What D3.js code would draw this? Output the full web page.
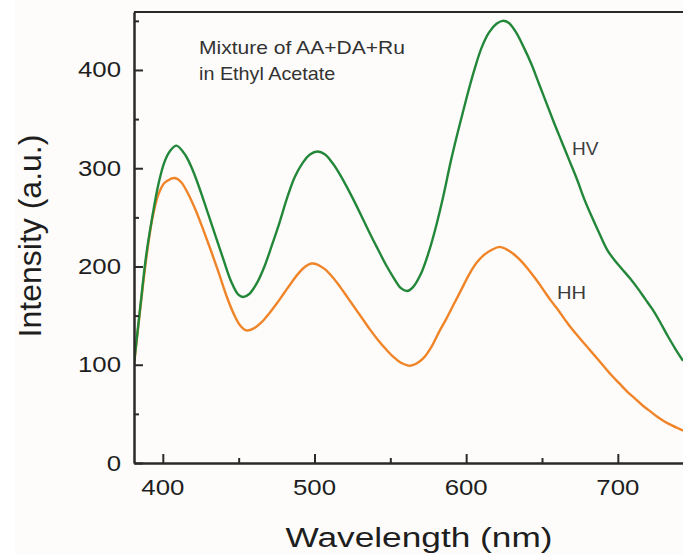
<!DOCTYPE html>
<html>
<head>
<meta charset="utf-8">
<script src="https://cdn.jsdelivr.net/npm/d3@7"></script>
<style>
  html, body { margin: 0; padding: 0; background: #fdfcfa; }
  svg { display: block; }
  text { font-family: "Liberation Sans", Arial, Helvetica, sans-serif; }
</style>
</head>
<body>
<div id="chart"></div>
<script>
// ---- Data ----
const hvWavelength = [381,385,389,393,397,401,405,409,415,420,425,430,435,440,445,450,453,457,462,467,472,477,482,487,492,497,502,507,512,517,522,527,532,537,542,547,552,557,561,565,570,575,580,585,590,595,600,605,610,615,620,624,628,633,638,643,648,653,658,663,668,673,678,683,688,693,698,703,708,713,718,723,728,733,738,743];
const hvIntensity  = [101,157,211,250,283,306,318,323,313,297,276,253,230,207,185,171,169,172,183,200,222,245,270,291,305,314,317,314,305,293,279,264,248,232,217,202,189,178,175,179,192,213,240,272,308,340,370,398,422,438,447,450,448,438,423,406,386,366,346,327,308,289,268,250,233,217,206,197,188,178,167,156,143,129,116,104];

const hhWavelength = [381,385,389,393,397,401,405,408,412,417,422,427,432,437,442,447,451,455,460,465,470,475,480,485,490,494,498,502,507,512,517,522,527,532,537,542,547,552,557,563,567,572,577,582,587,592,597,602,607,612,617,622,626,631,636,641,646,651,656,661,666,671,676,681,686,691,696,701,706,711,716,721,726,731,736,743];
const hhIntensity  = [100,155,207,248,273,285,289,290,286,273,256,236,215,193,170,151,140,135,137,143,152,162,173,184,194,200,203,202,197,189,179,168,157,146,135,125,116,108,102,99,101,107,118,133,147,162,177,192,204,212,217,220,218,213,206,197,187,176,165,155,144,134,125,116,107,98,89,81,73,66,59,53,47,42,38,33];

const xMajorTicks = [400, 500, 600, 700];
const xMinorTicks = [450, 550, 650, 750];
const yMajorTicks = [0, 100, 200, 300, 400];
const yMinorTicks = [50, 150, 250, 350, 450];

const xTitle = "Wavelength (nm)";
const yTitle = "Intensity (a.u.)";
const noteLines = ["Mixture of AA+DA+Ru", "in Ethyl Acetate"];
const seriesNames = ["HV", "HH"];

// ---- Layout ----
const W = 683, H = 554;
const plotLeft = 134, plotTop = 12, plotBottom = 463;

const svg = d3.select("#chart").append("svg")
  .attr("width", W).attr("height", H);

svg.append("rect").attr("x", 0).attr("y", 0).attr("width", W).attr("height", H).attr("fill", "#fdfcfa");
svg.append("rect").attr("x", 0).attr("y", 0).attr("width", 15).attr("height", H).attr("fill", "#ffffff");

const x = d3.scaleLinear().domain([381, 750]).range([plotLeft, plotLeft + 369 * 1.5167]);
const y = d3.scaleLinear().domain([0, 459]).range([plotBottom, plotTop]);

function stext(px, py, str, size, sx, anchor, fill) {
  return svg.append("text")
    .attr("transform", `translate(${px},${py}) scale(${sx},1)`)
    .attr("text-anchor", anchor)
    .attr("font-size", size)
    .attr("fill", fill)
    .text(str);
}

// ---- Curves ----
const plot = svg.append("g");
plot.append("defs").append("clipPath").attr("id", "clip")
  .append("rect").attr("x", plotLeft).attr("y", plotTop).attr("width", W - plotLeft).attr("height", plotBottom - plotTop);

const line = d3.line().x(d => x(d[0])).y(d => y(d[1])).curve(d3.curveCatmullRom.alpha(0.5));
const hvData = hvWavelength.map((w, i) => [w, hvIntensity[i]]);
const hhData = hhWavelength.map((w, i) => [w, hhIntensity[i]]);

plot.append("path").datum(hhData).attr("d", line)
  .attr("fill", "none").attr("stroke", "#f08428").attr("stroke-width", 2.4)
  .attr("stroke-linejoin", "round")
  .attr("clip-path", "url(#clip)");
plot.append("path").datum(hvData).attr("d", line)
  .attr("fill", "none").attr("stroke", "#23873a").attr("stroke-width", 2.4)
  .attr("stroke-linejoin", "round")
  .attr("clip-path", "url(#clip)");

// ---- Axes (inward ticks) ----
const axisColor = "#2a2a2a";
const xMaj = svg.append("g").attr("transform", `translate(0,${plotBottom})`)
  .call(d3.axisBottom(x).tickValues(xMajorTicks).tickSize(-9).tickSizeOuter(0).tickFormat(""));
const xMin = svg.append("g").attr("transform", `translate(0,${plotBottom})`)
  .call(d3.axisBottom(x).tickValues(xMinorTicks).tickSize(-5).tickSizeOuter(0).tickFormat(""));
const yMaj = svg.append("g").attr("transform", `translate(${plotLeft},0)`)
  .call(d3.axisLeft(y).tickValues(yMajorTicks).tickSize(-9).tickSizeOuter(0).tickFormat(""));
const yMin = svg.append("g").attr("transform", `translate(${plotLeft},0)`)
  .call(d3.axisLeft(y).tickValues(yMinorTicks).tickSize(-5).tickSizeOuter(0).tickFormat(""));

[xMaj, xMin, yMaj, yMin].forEach(g => {
  g.selectAll(".tick line").attr("stroke", axisColor).attr("stroke-width", 2);
  g.select(".domain").attr("stroke", axisColor).attr("stroke-width", 2.5);
});
xMin.select(".domain").remove();
yMin.select(".domain").remove();

// top frame line
svg.append("line").attr("x1", plotLeft).attr("x2", W + 20).attr("y1", plotTop).attr("y2", plotTop)
  .attr("stroke", axisColor).attr("stroke-width", 2);

// ---- Tick labels ----
xMajorTicks.forEach(v => stext(x(v), 495, String(v), 21.5, 1.2, "middle", "#1e1e1e"));
yMajorTicks.forEach(v => stext(121, y(v) + 7.5, String(v), 21.5, 1.2, "end", "#1e1e1e"));

// ---- Titles ----
stext(419, 547, xTitle, 28, 1.26, "middle", "#1e1e1e");
svg.append("text")
  .attr("transform", `translate(41,236) rotate(-90)`)
  .attr("text-anchor", "middle")
  .attr("font-size", 32)
  .attr("fill", "#1e1e1e")
  .text(yTitle);

// ---- Annotations ----
stext(199, 54, noteLines[0], 18, 1.17, "start", "#333333");
stext(199, 80, noteLines[1], 18, 1.1, "start", "#333333");
stext(572, 155, seriesNames[0], 18, 1.06, "start", "#3c3c3c");
stext(557, 299, seriesNames[1], 18, 1.12, "start", "#3c3c3c");
</script>
</body>
</html>
